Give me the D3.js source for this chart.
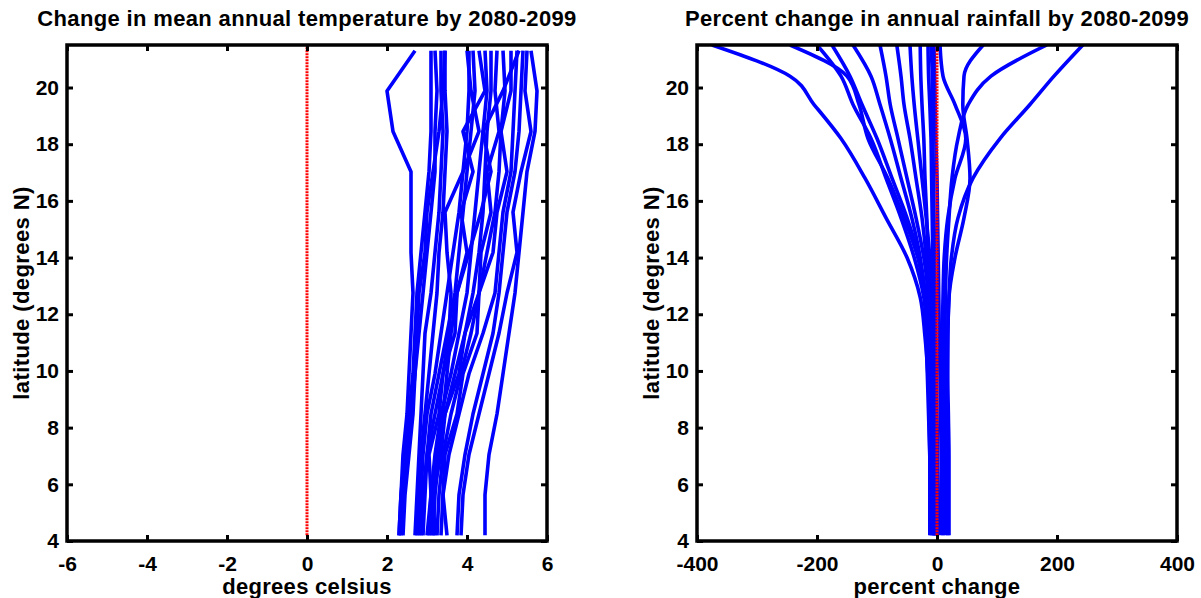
<!DOCTYPE html>
<html><head><meta charset="utf-8">
<script src="https://cdn.jsdelivr.net/npm/d3@7"></script>
<style>
html,body{margin:0;padding:0;background:#fff;}
svg{display:block;font-family:"Liberation Sans",Arial,Helvetica,sans-serif;font-weight:bold;}
</style></head>
<body>
<svg id="chart" width="1201" height="598"></svg>
<script>
// ---------- DATA ----------
const latTemp = [4.2, 5.63, 7.05, 8.48, 9.9, 11.33, 12.75, 14.18, 15.6, 17.03, 18.45, 19.88, 21.3];
const tempSeries = [
  [2.3, 2.35, 2.4, 2.5, 2.55, 2.6, 2.65, 2.6, 2.6, 2.6, 2.15, 2.0, 2.7],
  [2.35, 2.4, 2.5, 2.55, 2.65, 2.7, 2.75, 2.85, 2.95, 3.05, 3.1, 3.1, 3.1],
  [2.4, 2.45, 2.55, 2.65, 2.7, 2.8, 2.9, 3.0, 3.1, 3.2, 3.2, 3.25, 3.2],
  [2.7, 2.75, 2.8, 2.85, 2.9, 2.95, 3.1, 3.2, 3.3, 3.35, 3.4, 3.35, 3.35],
  [2.75, 2.8, 2.85, 2.95, 3.05, 3.15, 3.25, 3.3, 3.4, 3.45, 3.5, 3.45, 3.45],
  [2.8, 2.85, 2.9, 3.0, 3.2, 3.35, 3.5, 3.65, 3.8, 3.9, 4.0, 4.05, 4.05],
  [2.9, 2.95, 3.0, 3.1, 3.3, 3.5, 3.7, 3.8, 3.9, 4.0, 4.1, 4.2, 4.15],
  [3.0, 3.1, 3.05, 3.3, 3.4, 3.7, 3.75, 4.0, 3.85, 4.15, 3.9, 4.45, 4.3],
  [3.05, 3.1, 3.2, 3.35, 3.6, 3.8, 4.0, 4.1, 4.2, 4.3, 4.4, 4.5, 4.45],
  [3.1, 3.15, 3.25, 3.45, 3.7, 3.95, 4.15, 4.3, 4.4, 4.45, 4.5, 4.6, 4.6],
  [3.2, 3.15, 3.35, 3.45, 3.8, 3.95, 4.3, 4.35, 4.6, 4.5, 4.8, 4.7, 4.75],
  [3.25, 3.3, 3.4, 3.6, 3.85, 4.1, 4.3, 4.5, 4.7, 4.8, 4.85, 4.95, 4.9],
  [3.35, 3.4, 3.45, 3.75, 3.9, 4.25, 4.3, 4.65, 4.75, 5.0, 4.85, 5.1, 5.1],
  [3.5, 3.4, 3.55, 3.8, 4.05, 4.4, 4.7, 4.8, 4.9, 5.1, 5.15, 5.2, 5.25],
  [3.75, 3.8, 3.95, 4.15, 4.4, 4.65, 4.8, 4.9, 5.0, 5.2, 5.3, 5.35, 5.4],
  [3.85, 3.9, 4.05, 4.3, 4.55, 4.8, 5.0, 5.25, 5.15, 5.35, 5.6, 5.45, 5.5],
  [4.45, 4.45, 4.55, 4.75, 4.9, 5.05, 5.2, 5.3, 5.4, 5.5, 5.7, 5.75, 5.6],
  [2.3, 2.35, 2.45, 2.6, 2.7, 2.75, 2.8, 2.95, 3.0, 3.15, 3.3, 3.4, 3.45],
  [2.85, 2.9, 3.0, 3.2, 3.4, 3.55, 3.6, 3.5, 3.45, 3.9, 4.3, 4.1, 4.0],
  [3.15, 3.2, 3.3, 3.4, 3.5, 3.6, 3.75, 4.05, 4.35, 4.6, 4.4, 4.9, 5.3]
];
const latRain = [4.2, 5.6, 7.0, 8.4, 9.8, 11.2, 12.6, 14.0, 15.4, 16.8, 18.2, 19.4, 20.4, 21.5];
const rainSeries = [
  [-8, -8, -10, -12, -15, -20, -28, -50, -85, -120, -160, -205, -245, -375],
  [-5, -5, -8, -10, -12, -15, -20, -32, -55, -82, -115, -130, -150, -245],
  [-6, -6, -8, -10, -12, -16, -22, -38, -60, -85, -110, -140, -160, -200],
  [-3, -3, -5, -8, -10, -13, -18, -30, -50, -75, -100, -125, -145, -175],
  [-10, -10, -12, -14, -16, -18, -20, -28, -42, -60, -78, -95, -110, -140],
  [-2, -2, -4, -6, -8, -10, -14, -22, -35, -50, -65, -78, -85, -95],
  [-5, -5, -6, -8, -10, -12, -14, -18, -25, -35, -45, -55, -60, -67],
  [0, 0, -2, -4, -5, -7, -9, -12, -18, -25, -32, -38, -42, -45],
  [-12, -12, -12, -13, -13, -13, -14, -15, -17, -20, -22, -25, -27, -28],
  [2, 2, 1, 0, -1, -2, -3, -4, -5, -6, -7, -8, -8, -10],
  [-4, -4, -4, -5, -5, -5, -6, -7, -8, -9, -10, -12, -14, -15],
  [8, 8, 7, 6, 5, 4, 3, 2, 1, 0, -2, -3, -4, -5],
  [10, 10, 9, 9, 9, 9, 10, 12, 18, 30, 48, 30, 10, 5],
  [18, 18, 17, 17, 17, 18, 20, 30, 45, 55, 50, 43, 45, 77],
  [14, 14, 13, 12, 12, 13, 14, 16, 20, 25, 35, 52, 90, 183],
  [20, 20, 20, 19, 18, 18, 20, 24, 35, 60, 105, 155, 195, 243]
];
const zeroLat = [4.2, 21.5];
const tempTicks = [-6, -4, -2, 0, 2, 4, 6];
const rainTicks = [-400, -200, 0, 200, 400];
const latTicks = [4, 6, 8, 10, 12, 14, 16, 18, 20];
const titles = ["Change in mean annual temperature by 2080-2099", "Percent change in annual rainfall by 2080-2099"];
const xLabels = ["degrees celsius", "percent change"];
const yLabel = "latitude (degrees N)";

// ---------- DRAW ----------
const svg = d3.select("#chart");
const plotTop = 45, plotBottom = 541;
const panels = [
  {x0: 67, x1: 547, domain: [-6, 6], ticks: tempTicks, lat: latTemp, series: tempSeries, title: titles[0], xl: xLabels[0], curve: d3.curveLinear},
  {x0: 697, x1: 1177, domain: [-400, 400], ticks: rainTicks, lat: latRain, series: rainSeries, title: titles[1], xl: xLabels[1], curve: d3.curveMonotoneY}
];
const y = d3.scaleLinear().domain([4, 21.5]).range([plotBottom, plotTop]);
const fmt = d => String(d);

panels.forEach(p => {
  const x = d3.scaleLinear().domain(p.domain).range([p.x0, p.x1]);
  const g = svg.append("g");
  const clipId = "clip" + p.x0;
  svg.append("clipPath").attr("id", clipId).append("rect")
    .attr("x", p.x0).attr("y", plotTop).attr("width", p.x1 - p.x0).attr("height", plotBottom - plotTop);
  const line = d3.line().x(d => x(d[0])).y(d => y(d[1])).curve(p.curve);
  const lg = g.append("g").attr("clip-path", `url(#${clipId})`);
  p.series.forEach(s => {
    lg.append("path").datum(s.map((v, i) => [v, p.lat[i]]))
      .attr("d", line).attr("fill", "none").attr("stroke", "#0000ff")
      .attr("stroke-width", 3.6).attr("stroke-linejoin", "round").attr("stroke-linecap", "butt");
  });
  lg.append("path").datum(zeroLat.map(l => [0, l])).attr("d", d3.line().x(d => x(d[0])).y(d => y(d[1])))
    .attr("fill", "none").attr("stroke", "#ff0000").attr("stroke-width", 3)
    .attr("stroke-dasharray", "2,1");

  const axB = d3.axisBottom(x).tickValues(p.ticks).tickSize(-6).tickPadding(15.5).tickFormat(fmt);
  const axT = d3.axisTop(x).tickValues(p.ticks).tickSize(-6).tickFormat("");
  const axL = d3.axisLeft(y).tickValues(latTicks).tickSize(-6).tickPadding(8).tickFormat(fmt);
  const axR = d3.axisRight(y).tickValues(latTicks).tickSize(-6).tickFormat("");
  [[axB, `translate(0,${plotBottom})`], [axT, `translate(0,${plotTop})`], [axL, `translate(${p.x0},0)`], [axR, `translate(${p.x1},0)`]]
    .forEach(([ax, tr]) => {
      const a = g.append("g").attr("transform", tr).call(ax);
      a.select(".domain").remove();
      a.selectAll(".tick line").attr("stroke", "#000").attr("stroke-width", 3);
      a.selectAll(".tick text").attr("fill", "#000").style("font-size", "21px").style("font-weight", "bold")
        .style("font-family", "'Liberation Sans', Arial, sans-serif");
    });
  g.append("rect").attr("x", p.x0).attr("y", plotTop).attr("width", p.x1 - p.x0).attr("height", plotBottom - plotTop)
    .attr("fill", "none").attr("stroke", "#000").attr("stroke-width", 3.5);

  const cx = (p.x0 + p.x1) / 2;
  g.append("text").attr("x", cx).attr("y", 26).attr("text-anchor", "middle")
    .style("font-size", "22px").style("letter-spacing", "0.35px").text(p.title);
  g.append("text").attr("x", cx).attr("y", 594).attr("text-anchor", "middle")
    .style("font-size", "22px").style("letter-spacing", "0.3px").text(p.xl);
  g.append("text").attr("transform", `translate(${p.x0 - 38},${(plotTop + plotBottom) / 2}) rotate(-90)`)
    .attr("text-anchor", "middle").style("font-size", "22px").style("letter-spacing", "0.4px").text(yLabel);
});
</script>
</body></html>
